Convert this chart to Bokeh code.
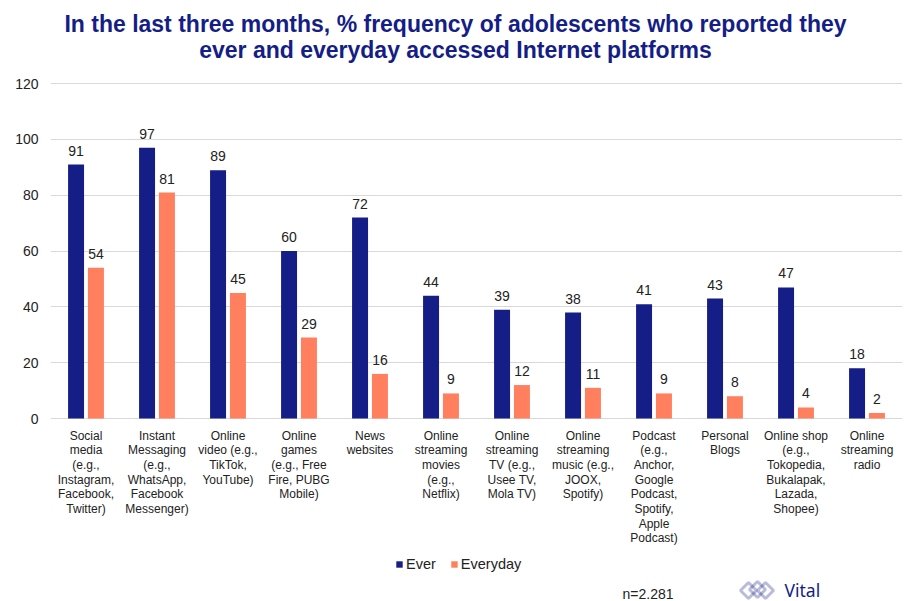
from bokeh.plotting import figure
from bokeh.models import (ColumnDataSource, FactorRange, Range1d, Legend, LegendItem,
                          Label, PolyAnnotation, FixedTicker)
from bokeh.core.properties import value
from bokeh.transform import dodge
from bokeh.embed import file_html
from bokeh.resources import INLINE

categories = [
    "Social\nmedia\n(e.g.,\nInstagram,\nFacebook,\nTwitter)",
    "Instant\nMessaging\n(e.g.,\nWhatsApp,\nFacebook\nMessenger)",
    "Online\nvideo (e.g.,\nTikTok,\nYouTube)",
    "Online\ngames\n(e.g., Free\nFire, PUBG\nMobile)",
    "News\nwebsites",
    "Online\nstreaming\nmovies\n(e.g.,\nNetflix)",
    "Online\nstreaming\nTV (e.g.,\nUsee TV,\nMola TV)",
    "Online\nstreaming\nmusic (e.g.,\nJOOX,\nSpotify)",
    "Podcast\n(e.g.,\nAnchor,\nGoogle\nPodcast,\nSpotify,\nApple\nPodcast)",
    "Personal\nBlogs",
    "Online shop\n(e.g.,\nTokopedia,\nBukalapak,\nLazada,\nShopee)",
    "Online\nstreaming\nradio",
]
ever = [91, 97, 89, 60, 72, 44, 39, 38, 41, 43, 47, 18]
everyday = [54, 81, 45, 29, 16, 9, 12, 11, 9, 8, 4, 2]
series_names = ["Ever", "Everyday"]
y_ticks = [0, 20, 40, 60, 80, 100, 120]

title_lines = ["In the last three months, % frequency of adolescents who reported they",
               "ever and everyday accessed Internet platforms"]
note = "n=2.281"
brand = "Vital"

NAVY = "#141E86"
SALMON = "#FF7F5F"
FONT = "Liberation Sans"

src = ColumnDataSource(dict(cat=categories, ever=ever, everyday=everyday,
                            base=[0] * len(categories),
                            ever_t=[str(v) for v in ever],
                            everyday_t=[str(v) for v in everyday]))

# the frame covers the whole canvas so that title, category labels, legend and
# footer all sit inside it; gridlines/ticks are limited to 0..120
p = figure(x_range=FactorRange(*categories), y_range=Range1d(-65.2, 149.8),
           width=904, height=600, output_backend="svg", toolbar_location=None,
           min_border_left=50, min_border_right=2, min_border_bottom=0,
           min_border_top=0)
p.outline_line_color = None
p.x_range.range_padding = 0

r1 = p.vbar(x=dodge("cat", -0.14, range=p.x_range), top="ever", width=0.225,
            source=src, fill_color=NAVY, line_color=None)
r2 = p.vbar(x=dodge("cat", 0.14, range=p.x_range), top="everyday", width=0.225,
            source=src, fill_color=SALMON, line_color=None)

p.text(x=dodge("cat", -0.14, range=p.x_range), y="ever", text="ever_t", source=src,
       text_align="center", text_baseline="bottom", y_offset=-9,
       text_font_size="14px", text_color="#222222", text_font=value(FONT))
p.text(x=dodge("cat", 0.14, range=p.x_range), y="everyday", text="everyday_t", source=src,
       text_align="center", text_baseline="bottom", y_offset=-9,
       text_font_size="14px", text_color="#222222", text_font=value(FONT))

# category labels under the zero line
p.text(x="cat", y="base", text="cat", source=src, text_align="center",
       text_baseline="top", y_offset=10, text_font_size="12px",
       text_line_height=1.05, text_color="#222222", text_font=value(FONT))

# axes
p.xaxis.visible = False
p.yaxis.ticker = FixedTicker(ticks=y_ticks)
p.yaxis.axis_line_color = None
p.yaxis.major_tick_line_color = None
p.yaxis.major_tick_out = 0
p.yaxis.minor_tick_line_color = None
p.yaxis.major_label_text_font_size = "14px"
p.yaxis.major_label_text_color = "#222222"
p.yaxis.major_label_text_font = FONT
p.yaxis.major_label_standoff = 12

p.xgrid.grid_line_color = None
p.ygrid.grid_line_color = "#d9d9d9"
p.ygrid.grid_line_width = 1

# title (two centred lines; screen y measured from frame bottom)
for i, line in enumerate(title_lines):
    p.add_layout(Label(x=405, y=577 - 26 * i, x_units="screen", y_units="screen",
                       text=line, text_align="center", text_baseline="middle",
                       text_font=FONT, text_font_size="23px", text_font_style="bold",
                       text_color=NAVY))

legend = Legend(items=[LegendItem(label=series_names[0], renderers=[r1]),
                       LegendItem(label=series_names[1], renderers=[r2])],
                location=(345, 28), orientation="horizontal",
                label_text_font_size="14.5px", label_text_font=FONT, label_text_color="#222222",
                glyph_width=8, glyph_height=8, spacing=14, padding=0, margin=0,
                label_standoff=3, border_line_color=None, background_fill_alpha=0)
p.add_layout(legend, "center")

p.add_layout(Label(x=572, y=7, x_units="screen", y_units="screen", text=note,
                   text_font_size="14px", text_font=FONT, text_color="#222222",
                   text_baseline="middle"))
p.add_layout(Label(x=734, y=11, x_units="screen", y_units="screen", text=brand,
                   text_font_size="17.5px", text_font="Noto Sans", text_color=NAVY,
                   text_baseline="middle"))

# logo icon (approximation of the brand mark)
ox, oy = 690, 10
shapes = [
    [(0, 0), (8, 8), (16, 0), (8, -8)],
    [(9, 1), (17, 9), (25, 1), (17, -7)],
    [(17, 0), (25, 8), (33, 0), (25, -8)],
]
for s in shapes:
    p.add_layout(PolyAnnotation(xs=[ox + a for a, b in s], ys=[oy + b for a, b in s],
                                xs_units="screen", ys_units="screen",
                                fill_alpha=0, line_color=NAVY, line_width=3))

open("out.html", "w").write(file_html(p, INLINE))
